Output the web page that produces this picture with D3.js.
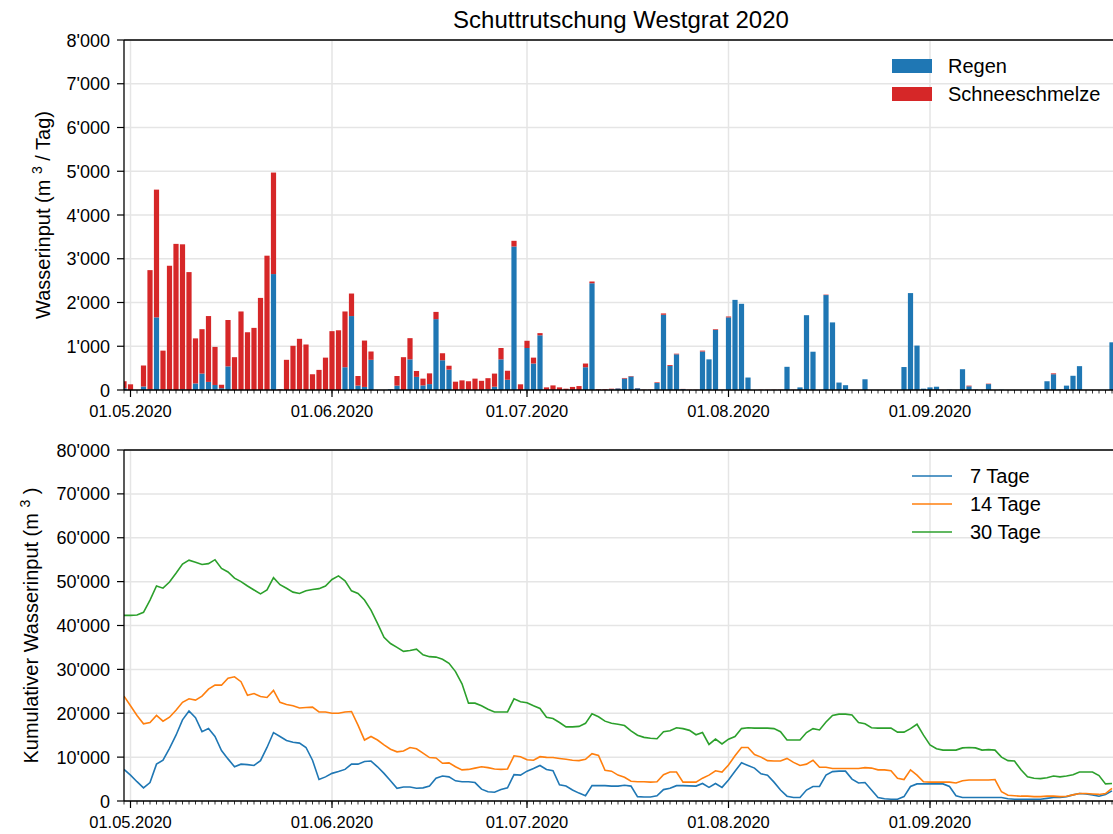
<!DOCTYPE html>
<html lang="en">
<head>
<meta charset="utf-8">
<title>Schuttrutschung Westgrat 2020</title>
<script src="https://d3js.org/d3.v7.min.js"></script>
<style>
  body { margin: 0; background: #fff; }
  svg { font-family: "Liberation Sans", Arial, sans-serif; }
</style>
</head>
<body>
<script>
// days from 30.04.2020 to 29.09.2020 (153 values each)
var startDay = new Date(2020, 3, 30);
var endDay = new Date(2020, 8, 30);

// daily input, m3 / day
var regen = [
  40,
  0, 0, 80, 20, 1660, 15, 0, 0, 20, 0, 150, 375, 185, 115, 40, 540, 0, 0, 0, 0, 0, 0, 2650, 0, 0, 0, 0, 0, 0, 0, 0,
  0, 0, 520, 1690, 100, 70, 690, 0, 0, 15, 100, 0, 700, 300, 105, 135, 1620, 680, 465, 0, 15, 0, 0, 0, 15, 75, 700, 235, 3280, 0,
  960, 605, 1250, 0, 0, 0, 0, 0, 0, 520, 2440, 0, 0, 15, 35, 260, 310, 40, 0, 0, 160, 1720, 550, 815, 20, 0, 0, 880, 700, 1375, 0,
  1660, 2060, 1970, 285, 0, 0, 0, 0, 0, 530, 0, 60, 1710, 875, 0, 2170, 1545, 170, 110, 0, 0, 245, 0, 0, 0, 0, 0, 525, 2215, 1015, 30,
  60, 75, 0, 8, 0, 475, 85, 8, 0, 135, 0, 5, 0, 0, 0, 0, 0, 0, 200, 360, 8, 100, 325, 545, 0, 0, 0, 0, 1090
];
var schnee = [
  160,
  130, 0, 480, 2720, 2920, 885, 2840, 3340, 3310, 2695, 1030, 1015, 1505, 870, 80, 1060, 750, 1795, 1320, 1420, 2105, 3070, 2320, 15, 690, 1010, 1170, 1040, 360, 460, 740,
  1345, 1365, 1275, 515, 220, 1060, 190, 0, 0, 0, 220, 750, 485, 135, 155, 245, 165, 160, 90, 190, 205, 200, 260, 210, 255, 300, 260, 205, 130, 130,
  165, 135, 50, 60, 105, 60, 30, 70, 90, 85, 40, 15, 15, 15, 5, 15, 10, 5, 5, 5, 15, 30, 20, 15, 5, 5, 5, 20, 0, 15, 5,
  20, 0, 0, 0, 0, 5, 5, 5, 5, 0, 5, 0, 0, 0, 0, 10, 0, 0, 0, 0, 0, 0, 0, 0, 0, 0, 0, 0, 0, 0, 0,
  0, 0, 0, 0, 0, 0, 15, 0, 0, 10, 0, 0, 0, 0, 0, 0, 0, 0, 0, 20, 0, 0, 0, 0, 0, 0, 0, 0, 0
];

// cumulative input, m3
var tage7 = [
  7200,
  5900, 4400, 3000, 4200, 8400, 9300, 12000, 15000, 18500, 20500, 19000, 15800, 16500, 14700, 11500, 9600, 7800, 8400, 8300, 8100, 9200, 12200, 15600, 14700, 13800, 13400, 13200, 12200, 9300, 4900, 5500,
  6300, 6700, 7200, 8400, 8400, 9000, 9100, 7800, 6300, 4600, 2900, 3200, 3200, 2900, 3000, 3400, 5200, 5700, 5500, 4600, 4400, 4400, 4200, 2700, 2100, 2000, 2600, 3000, 6000, 5900,
  6800, 7400, 8100, 7200, 6900, 3700, 3400, 2500, 1800, 1200, 3500, 3500, 3500, 3400, 3400, 3600, 3400, 1000, 900, 900, 1200, 2600, 2900, 3500, 3500, 3450, 3400, 4000, 3100, 4000, 3100,
  4800, 6800, 8700, 8100, 7500, 6200, 5900, 4300, 2500, 1100, 800, 800, 2500, 3300, 3300, 5900, 6700, 6800, 6800, 5000, 4100, 4200, 2500, 800, 500, 400, 400, 1000, 3300, 3900, 3900,
  3900, 3900, 3900, 3300, 1200, 800, 800, 800, 800, 800, 800, 800, 500, 400, 400, 400, 400, 400, 600, 800, 800, 1000, 1400, 1700, 1600, 1400, 1100, 1500, 2300
];
var tage14 = [
  23900,
  21700, 19500, 17600, 17900, 19500, 18200, 19100, 20700, 22500, 23300, 23000, 23900, 25500, 26400, 26400, 28000, 28300, 27200, 24100, 24500, 23800, 23600, 25200, 22500, 22000, 21700, 21200, 21300, 21400, 20300, 20300,
  20000, 20000, 20300, 20400, 17300, 13900, 14700, 13900, 12800, 11800, 11200, 11400, 12200, 11900, 10900, 9900, 9800, 8600, 8700, 7800, 7100, 7200, 7500, 7800, 7600, 7300, 7200, 7300, 10300, 10100,
  9400, 9300, 10100, 9950, 9900, 9700, 9500, 9300, 9200, 9500, 10800, 10400, 7000, 6800, 5900, 5400, 4500, 4400, 4400, 4300, 4400, 6000, 6600, 6600, 4300, 4300, 4300, 5200, 5900, 6900, 6600,
  8200, 10300, 12200, 12200, 10600, 10000, 9200, 9100, 9100, 9700, 8800, 8100, 8400, 9300, 7700, 7700, 7400, 7400, 7400, 7400, 7400, 7600, 7500, 7100, 7100, 6900, 5200, 4900, 7100, 5900, 4400,
  4300, 4300, 4300, 4300, 4100, 4600, 4800, 4800, 4800, 4800, 4900, 2100, 1300, 1200, 1100, 1100, 1000, 1000, 1100, 1100, 1000, 1100, 1400, 1700, 1700, 1600, 1500, 1700, 2900
];
var tage30 = [
  42300,
  42300, 42400, 43000, 45800, 49000, 48500, 49900, 51900, 54000, 54900, 54400, 53900, 54100, 55000, 53000, 52200, 50800, 50000, 49000, 48100, 47200, 48100, 50900, 49300, 48500, 47600, 47300, 47900, 48200, 48400, 49000,
  50500, 51300, 50200, 47900, 47300, 45800, 43500, 40500, 37300, 35900, 35000, 34100, 34300, 34600, 33300, 32900, 32800, 32300, 31400, 29500, 26700, 22300, 22300, 21700, 20900, 20300, 20300, 20300, 23300, 22600,
  22400, 21700, 21100, 19100, 18800, 17900, 16900, 16900, 17000, 17700, 19900, 19200, 18200, 17700, 17500, 17200, 16000, 15000, 14500, 14300, 14200, 15800, 16000, 16700, 16500, 16100, 15100, 15600, 12900, 14100, 13000,
  14100, 14700, 16500, 16700, 16600, 16600, 16600, 16500, 15800, 13900, 13900, 13900, 15600, 16500, 16200, 18000, 19500, 19800, 19800, 19600, 17900, 17600, 16700, 16600, 16600, 16600, 15700, 15700, 16500, 17500, 15000,
  12800, 11900, 11600, 11600, 11600, 12100, 12200, 12100, 11600, 11700, 11600, 10000, 9200, 9100, 7100, 5500, 5200, 5100, 5300, 5700, 5500, 5700, 6000, 6600, 6600, 6600, 5800, 3900, 4000
];

var topTicks = [0, 1000, 2000, 3000, 4000, 5000, 6000, 7000, 8000];
var bottomTicks = [0, 10000, 20000, 30000, 40000, 50000, 60000, 70000, 80000];

var days = d3.timeDay.range(startDay, endDay);

var w = 1113, h = 834;
var left = 124;
var dayW = 6.5;
var axisEnd = left + 154 * dayW;
var top1 = 40, bot1 = 390;
var top2 = 450, bot2 = 801;

var svg = d3.select("body").append("svg")
  .attr("width", w).attr("height", h);

var fmt = function (d) { return d3.format(",")(d).replace(/,/g, "'"); };

var x = d3.scaleTime()
  .domain([startDay, new Date(2020, 9, 1)])
  .range([left, axisEnd]);

var months = d3.timeMonth.range(new Date(2020, 4, 1), new Date(2020, 9, 1));

function drawPanel(y0, y1, yScale, ticks, g) {
  // grid
  g.selectAll(".hg").data(ticks).enter().append("line")
    .attr("x1", left).attr("x2", w)
    .attr("y1", function (d) { return yScale(d); })
    .attr("y2", function (d) { return yScale(d); })
    .attr("stroke", "#e5e5e5").attr("stroke-width", 1.5);
  g.selectAll(".vg").data(months).enter().append("line")
    .attr("x1", function (d) { return x(d); })
    .attr("x2", function (d) { return x(d); })
    .attr("y1", y0).attr("y2", y1)
    .attr("stroke", "#e5e5e5").attr("stroke-width", 1.5);
}

function drawAxes(y0, y1, yScale, ticks, g) {
  // x axis: day minor ticks, month major ticks
  g.selectAll(".mt").data(days).enter().append("line")
    .attr("x1", function (d) { return x(d); })
    .attr("x2", function (d) { return x(d); })
    .attr("y1", y1).attr("y2", y1 + 3.5)
    .attr("stroke", "#000").attr("stroke-width", 0.8);
  g.selectAll(".Mt").data(months).enter().append("line")
    .attr("x1", function (d) { return x(d); })
    .attr("x2", function (d) { return x(d); })
    .attr("y1", y1).attr("y2", y1 + 7)
    .attr("stroke", "#000").attr("stroke-width", 1.2);
  g.selectAll(".ml").data(months).enter().append("text")
    .attr("x", function (d) { return x(d); })
    .attr("y", y1 + 27)
    .attr("text-anchor", "middle")
    .attr("font-size", "16.5px")
    .text(d3.timeFormat("%d.%m.%Y"));
  // y axis
  g.selectAll(".yt").data(ticks).enter().append("line")
    .attr("x1", left - 7).attr("x2", left)
    .attr("y1", function (d) { return yScale(d); })
    .attr("y2", function (d) { return yScale(d); })
    .attr("stroke", "#000").attr("stroke-width", 1.2);
  g.selectAll(".yl").data(ticks).enter().append("text")
    .attr("x", left - 14)
    .attr("y", function (d) { return yScale(d) + 6.5; })
    .attr("text-anchor", "end")
    .attr("font-size", "18px")
    .text(fmt);
  // spines
  g.append("line").attr("x1", left).attr("x2", left).attr("y1", y0).attr("y2", y1)
    .attr("stroke", "#000").attr("stroke-width", 1.3);
  g.append("line").attr("x1", left).attr("x2", w).attr("y1", y1).attr("y2", y1)
    .attr("stroke", "#000").attr("stroke-width", 1.3);
  g.append("line").attr("x1", left).attr("x2", w).attr("y1", y0).attr("y2", y0)
    .attr("stroke", "#000").attr("stroke-width", 1.3);
}

var defs = svg.append("defs");
defs.append("clipPath").attr("id", "clip1").append("rect")
  .attr("x", left).attr("y", top1).attr("width", w - left).attr("height", bot1 - top1);
defs.append("clipPath").attr("id", "clip2").append("rect")
  .attr("x", left).attr("y", top2).attr("width", w - left).attr("height", bot2 - top2);

// ---------- top: bars ----------
var y1 = d3.scaleLinear().domain([0, 8000]).range([bot1, top1]);
var g1 = svg.append("g");
drawPanel(top1, bot1, y1, topTicks, g1);

var barW = 0.8 * dayW;
var bars = g1.append("g").attr("clip-path", "url(#clip1)");
bars.selectAll(".regen").data(days).enter().append("rect")
  .attr("x", function (d) { return x(d) - barW / 2; })
  .attr("width", barW)
  .attr("y", function (d, i) { return y1(regen[i]); })
  .attr("height", function (d, i) { return bot1 - y1(regen[i]); })
  .attr("fill", "#1f77b4");
bars.selectAll(".schnee").data(days).enter().append("rect")
  .attr("x", function (d) { return x(d) - barW / 2; })
  .attr("width", barW)
  .attr("y", function (d, i) { return y1(regen[i] + schnee[i]); })
  .attr("height", function (d, i) { return y1(regen[i]) - y1(regen[i] + schnee[i]); })
  .attr("fill", "#d62728");
drawAxes(top1, bot1, y1, topTicks, g1);

svg.append("text")
  .attr("x", 621).attr("y", 28)
  .attr("text-anchor", "middle")
  .attr("font-size", "24px")
  .text("Schuttrutschung Westgrat 2020");

var yl1 = svg.append("text")
  .attr("transform", "translate(50," + ((top1 + bot1) / 2) + ") rotate(-90)")
  .attr("text-anchor", "middle")
  .attr("font-size", "20px");
yl1.append("tspan").text("Wasserinput (m ");
yl1.append("tspan").attr("dy", -8).attr("font-size", "14px").text("3");
yl1.append("tspan").attr("dy", 8).text(" / Tag)");

// legend top
var leg1 = [["Regen", "#1f77b4"], ["Schneeschmelze", "#d62728"]];
leg1.forEach(function (l, i) {
  svg.append("rect").attr("x", 892).attr("y", 59 + i * 28).attr("width", 40).attr("height", 14)
    .attr("fill", l[1]);
  svg.append("text").attr("x", 948).attr("y", 73 + i * 28).attr("font-size", "20px").text(l[0]);
});

// ---------- bottom: lines ----------
var y2 = d3.scaleLinear().domain([0, 80000]).range([bot2, top2]);
var g2 = svg.append("g");
drawPanel(top2, bot2, y2, bottomTicks, g2);

var series = [["7 Tage", tage7, "#1f77b4"], ["14 Tage", tage14, "#ff7f0e"], ["30 Tage", tage30, "#2ca02c"]];
var lines = g2.append("g").attr("clip-path", "url(#clip2)");
series.forEach(function (s) {
  var line = d3.line()
    .x(function (d, i) { return x(days[i]); })
    .y(function (d) { return y2(d); });
  lines.append("path").datum(s[1])
    .attr("d", line)
    .attr("fill", "none")
    .attr("stroke", s[2])
    .attr("stroke-width", 1.6);
});
drawAxes(top2, bot2, y2, bottomTicks, g2);

var yl2 = svg.append("text")
  .attr("transform", "translate(38," + ((top2 + bot2) / 2) + ") rotate(-90)")
  .attr("text-anchor", "middle")
  .attr("font-size", "20px");
yl2.append("tspan").text("Kumulativer Wasserinput (m ");
yl2.append("tspan").attr("dy", -8).attr("font-size", "14px").text("3");
yl2.append("tspan").attr("dy", 8).text(" )");

series.forEach(function (s, i) {
  svg.append("line").attr("x1", 912).attr("x2", 952)
    .attr("y1", 476 + i * 28).attr("y2", 476 + i * 28)
    .attr("stroke", s[2]).attr("stroke-width", 1.6);
  svg.append("text").attr("x", 970).attr("y", 483 + i * 28).attr("font-size", "20px").text(s[0]);
});
</script>
</body>
</html>
